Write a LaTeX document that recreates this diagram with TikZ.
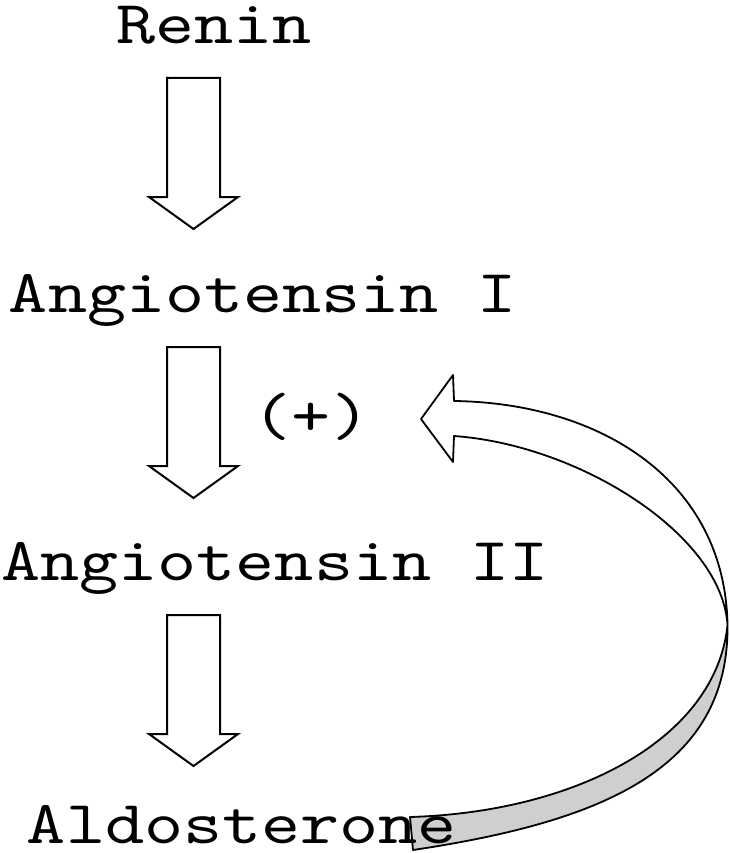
\documentclass[tikz,border=0pt]{standalone}
\usepackage{fontspec}
\newfontfamily\courish[FakeStretch=1.22]{lmmono10-regular.otf}
\begin{document}
\begin{tikzpicture}[x=1pt,y=-1pt,
  lbl/.style={inner sep=0pt,outer sep=0pt,anchor=base west,font=\courish\fontsize{61}{61}\selectfont},
  blockarrow/.style={draw=black,fill=white,line width=2pt,line join=miter},
  ribbon/.style={draw=black,line width=1.8pt,line join=round}]
\useasboundingbox (0,0) rectangle (729,853);
% feedback ribbon arrow (drawn first, text on top)
\coordinate (T) at (727.5,625);
\coordinate (rs1) at (454,401);
\coordinate (rs2) at (454,436);
\coordinate (rb1) at (410,817);
\coordinate (rb2) at (413,850);
\coordinate (tip) at (421,419);
\draw[ribbon,fill=black!19] (T) .. controls (716,738) and (578,812) .. (rb1) -- (rb2)
   .. controls (600,822) and (729,770) .. (T) -- cycle;
\draw[ribbon,fill=white] (rs1) .. controls (600,403) and (725,480) .. (T)
   .. controls (722,535) and (580,445) .. (rs2) -- (453,462) -- (tip) -- (453,375) -- cycle;
% labels
\node[lbl] (renin) at (116,44) {Renin};
\node[lbl] (ang1) at (9,312) {Angiotensin I};
\node[lbl] (ang2) at (1.5,580) {Angiotensin II};
\node[lbl] (aldo) at (27,843) {Aldosterone};
\node[inner sep=0pt,anchor=base,font=\courish\fontsize{61}{61}\selectfont] (plus) at (311.5,435) {(+)};
% block arrows
\foreach \n/\t in {a1/78,a2/347,a3/615}{
  \coordinate (\n) at (193.5,\t);
  \draw[blockarrow] (\n) ++(-26.5,0) -- ++(0,119) -- ++(-18,0) -- ++(44.5,32)
     -- ++(44.5,-32) -- ++(-18,0) -- ++(0,-119) -- cycle;
}
\end{tikzpicture}
\end{document}
